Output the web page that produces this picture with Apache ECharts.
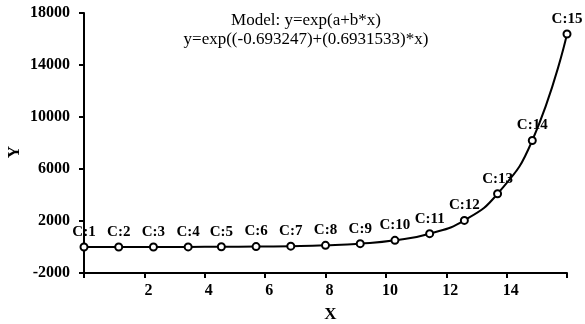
<!DOCTYPE html>
<html>
<head>
<meta charset="utf-8">
<script src="https://cdn.jsdelivr.net/npm/echarts@6/dist/echarts.min.js"></script>
<style>
  html, body { margin: 0; padding: 0; background: #fff; }
  #chart { width: 585px; height: 324px; }
</style>
</head>
<body>
<div id="chart"></div>
<script>
// points
var pointNames = ['C:1', 'C:2', 'C:3', 'C:4', 'C:5', 'C:6', 'C:7', 'C:8', 'C:9', 'C:10', 'C:11', 'C:12', 'C:13', 'C:14', 'C:15']
var xValues = [0, 1.15, 2.3, 3.45, 4.55, 5.7, 6.85, 8, 9.15, 10.3, 11.45, 12.6, 13.7, 14.85, 16]
var yValues = [1, 2, 4, 8, 16, 32, 64, 128, 256, 512, 1024, 2048, 4096, 8192, 16384]
var yTicks = [-2000, 2000, 6000, 10000, 14000, 18000]
var xTicks = [0, 2, 4, 6, 8, 10, 12, 14, 16]
var xTickLabels = [2, 4, 6, 8, 10, 12, 14]
var modelText = 'Model: y=exp(a+b*x)\ny=exp((-0.693247)+(0.6931533)*x)'

var serif = '"Liberation Serif", "DejaVu Serif", serif'

var chart = echarts.init(document.getElementById('chart'))

var points = xValues.map(function (x, i) {
  return { value: [x, yValues[i]], name: pointNames[i] }
})

chart.setOption({
  animation: false,
  title: {
    text: modelText,
    left: 301,
    top: 6,
    textAlign: 'center',
    textStyle: {
      fontFamily: serif,
      fontSize: 17,
      fontWeight: 'normal',
      lineHeight: 19,
      color: '#000'
    }
  },
  // y axis title, placed by hand
  graphic: [
    {
      type: 'text',
      x: 15,
      y: 152,
      rotation: Math.PI / 2,
      style: {
        text: 'Y',
        align: 'center',
        verticalAlign: 'middle',
        font: 'bold 17px ' + serif,
        fill: '#000'
      }
    }
  ],
  grid: {
    left: 84,
    right: 18,
    top: 13,
    bottom: 51,
    containLabel: false,
    outerBoundsMode: 'none'
  },
  xAxis: {
    type: 'value',
    min: 0,
    max: 16,
    name: 'X',
    nameLocation: 'middle',
    nameGap: 33,
    nameTextStyle: { fontFamily: serif, fontSize: 17, fontWeight: 'bold', color: '#000', padding: [0, 0, 0, 10] },
    axisLine: { onZero: false, lineStyle: { color: '#000', width: 2 } },
    axisTick: { show: true, length: 5, customValues: xTicks, lineStyle: { color: '#000', width: 2 } },
    axisLabel: {
      customValues: xTickLabels,
      margin: 10,
      fontFamily: serif,
      fontSize: 16,
      fontWeight: 'bold',
      color: '#000',
      padding: [0, 0, 0, 8],
      formatter: function (v) { return String(v) }
    },
    splitLine: { show: false }
  },
  yAxis: {
    type: 'value',
    min: -2000,
    max: 18000,
    axisLine: { show: true, lineStyle: { color: '#000', width: 2 } },
    axisTick: { show: true, length: 5, customValues: yTicks, lineStyle: { color: '#000', width: 2 } },
    axisLabel: {
      customValues: yTicks,
      margin: 14,
      fontFamily: serif,
      fontSize: 16,
      fontWeight: 'bold',
      color: '#000',
      formatter: function (v) { return String(v) }
    },
    splitLine: { show: false }
  },
  series: [
    {
      type: 'line',
      data: points,
      smooth: 0.5,
      symbol: 'circle',
      symbolSize: 7,
      itemStyle: { color: '#fff', borderColor: '#000', borderWidth: 2 },
      lineStyle: { color: '#000', width: 2 },
      label: {
        show: true,
        position: 'top',
        distance: 3,
        formatter: function (p) { return p.name },
        fontFamily: serif,
        fontSize: 15,
        fontWeight: 'bold',
        color: '#000'
      }
    }
  ]
})
</script>
</body>
</html>
